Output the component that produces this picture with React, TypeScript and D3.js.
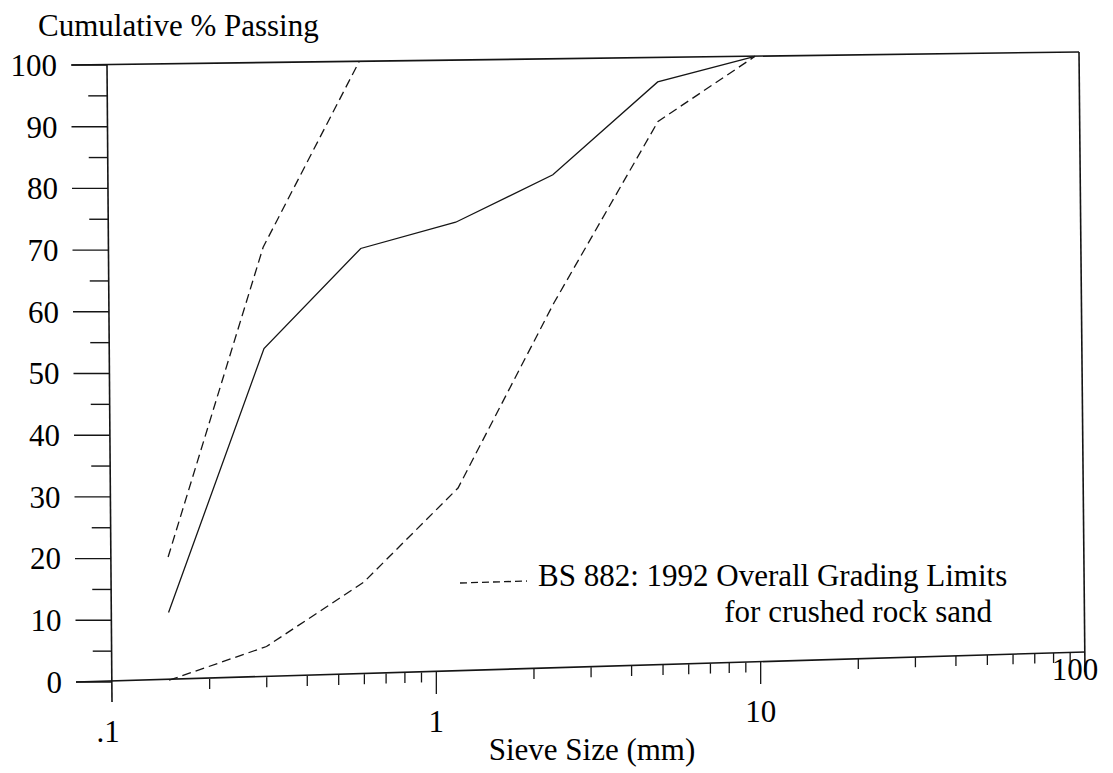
import React from "react";
import * as d3 from "d3";

const sieveSizes = [0.15, 0.3, 0.6, 1.18, 2.36, 5, 10];
const samplePassing = [11, 53.5, 69.5, 73.5, 81, 96, 100];
const lowerLimit = [0, 5, 15, 30, 60, 89.5, 100];
const upperSizes = [0.15, 0.3, 0.6];
const upperLimit = [20, 70, 100];
const yTicks = [0, 10, 20, 30, 40, 50, 60, 70, 80, 90, 100];
const yMinor = [5, 15, 25, 35, 45, 55, 65, 75, 85, 95];
const xTickValues = [0.1, 1, 10, 100];
const xTickLabels = [".1", "1", "10", "100"];
const yTitle = "Cumulative % Passing";
const xTitle = "Sieve Size (mm)";
const legendLines = ["BS 882: 1992 Overall Grading Limits", "for crushed rock sand"];

const W = 1113;
const H = 773;
// scanned frame corners (slightly skewed)
const BL = [112, 682];
const BR = [1085, 652];
const TL = [107, 65];
const TR = [1079, 52];

const xs = d3.scaleLog().domain([0.1, 100]).range([0, 1]);
const ys = d3.scaleLinear().domain([0, 100]).range([0, 1]);

function warp(x: number, y: number): [number, number] {
  const u = xs(x);
  const v = ys(y);
  const px = BL[0] * (1 - u) * (1 - v) + BR[0] * u * (1 - v) + TL[0] * (1 - u) * v + TR[0] * u * v;
  const py = BL[1] * (1 - u) * (1 - v) + BR[1] * u * (1 - v) + TL[1] * (1 - u) * v + TR[1] * u * v;
  return [px, py];
}

const lineGen = d3
  .line<[number, number]>()
  .x((d) => warp(d[0], d[1])[0])
  .y((d) => warp(d[0], d[1])[1]);

const FONT = "Liberation Serif, Tinos, Times New Roman, DejaVu Serif, serif";
const INK = "#151515";
const txt = { fontFamily: FONT, fontSize: 31, fill: "#000" } as React.CSSProperties;

export default function App() {
  const sample = sieveSizes.map((s, i) => [s, samplePassing[i]] as [number, number]);
  const lower = sieveSizes.map((s, i) => [s, lowerLimit[i]] as [number, number]);
  const upper = upperSizes.map((s, i) => [s, upperLimit[i]] as [number, number]);

  const minorX: number[] = [];
  [0.1, 1, 10].forEach((d) => {
    for (let k = 2; k <= 9; k++) minorX.push(k * d);
  });

  const bl = warp(0.1, 0);
  const br = warp(100, 0);
  const tl = warp(0.1, 100);
  const tr = warp(100, 100);

  return (
    <div style={{ position: "absolute", left: 0, top: 0 }}>
      <svg width={W} height={H} style={{ display: "block", background: "#fff" }}>
        {/* frame */}
        <g stroke={INK} strokeWidth={1.6} fill="none">
          <line x1={tl[0] - 35} y1={tl[1]} x2={tr[0]} y2={tr[1]} />
          <line x1={bl[0] - 36} y1={bl[1]} x2={br[0]} y2={br[1]} />
          <line x1={tl[0]} y1={tl[1]} x2={bl[0]} y2={bl[1] + 20} />
          <line x1={tr[0]} y1={tr[1]} x2={br[0]} y2={br[1] + 20} />
        </g>
        {/* y ticks */}
        <g stroke={INK} strokeWidth={1.4}>
          {yTicks.map((t) => {
            const p = warp(0.1, t);
            return <line key={"y" + t} x1={p[0] - 36} y1={p[1]} x2={p[0]} y2={p[1]} />;
          })}
          {yMinor.map((t) => {
            const p = warp(0.1, t);
            return <line key={"ym" + t} x1={p[0] - 19} y1={p[1]} x2={p[0]} y2={p[1]} />;
          })}
        </g>
        {/* x ticks */}
        <g stroke={INK} strokeWidth={1.3}>
          {minorX.map((t) => {
            const p = warp(t, 0);
            return <line key={"xm" + t} x1={p[0]} y1={p[1]} x2={p[0]} y2={p[1] + 10} />;
          })}
          {[1, 10].map((t) => {
            const p = warp(t, 0);
            return <line key={"xM" + t} x1={p[0]} y1={p[1]} x2={p[0]} y2={p[1] + 22} />;
          })}
        </g>
        {/* y labels */}
        {yTicks.map((t) => {
          const p = warp(0.1, t);
          return (
            <text key={"yl" + t} x={p[0] - 50} y={p[1]} dy="0.35em" textAnchor="end" style={txt}>
              {t}
            </text>
          );
        })}
        {/* x labels */}
        {xTickValues.map((t, i) => {
          const p = warp(t, 0);
          const last = i === xTickValues.length - 1;
          return (
            <text
              key={"xl" + t}
              x={p[0] + (last ? -10 : i === 0 ? -4 : 0)}
              y={p[1] + (last ? 28 : 60)}
              textAnchor="middle"
              style={txt}
            >
              {xTickLabels[i]}
            </text>
          );
        })}
        {/* data */}
        <g fill="none" stroke={INK} strokeWidth={1.3}>
          <path d={lineGen(sample) || ""} />
          <path d={lineGen(lower) || ""} strokeDasharray="9,5" />
          <path d={lineGen(upper) || ""} strokeDasharray="9,5" />
        </g>
        {/* titles */}
        <text x={38} y={36} style={txt}>
          {yTitle}
        </text>
        <text x={592} y={760} textAnchor="middle" style={txt}>
          {xTitle}
        </text>
        {/* legend */}
        <line x1={460} y1={583} x2={527} y2={581} stroke={INK} strokeWidth={1.3} strokeDasharray="7,4" />
        <text x={538} y={586} style={txt}>
          {legendLines[0]}
        </text>
        <text x={992} y={622} textAnchor="end" style={txt}>
          {legendLines[1]}
        </text>
      </svg>
    </div>
  );
}
